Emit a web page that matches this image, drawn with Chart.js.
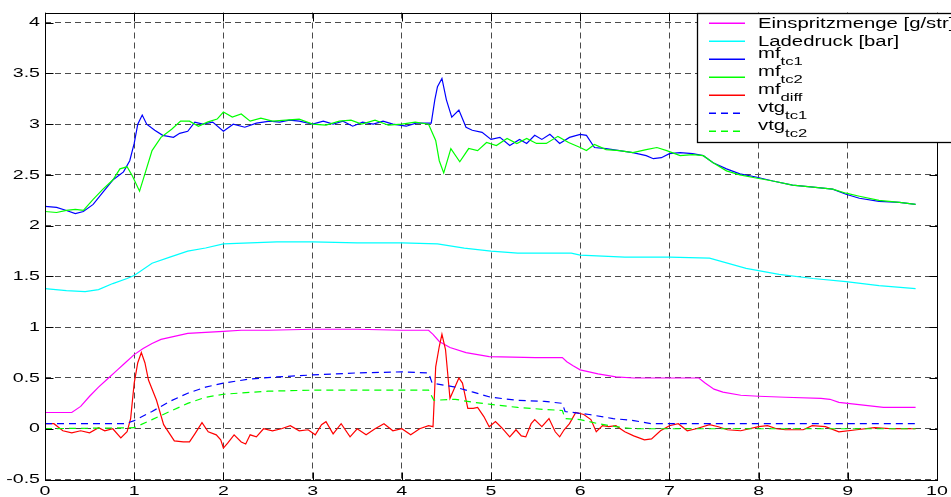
<!DOCTYPE html>
<html>
<head>
<meta charset="utf-8">
<script src="https://cdn.jsdelivr.net/npm/chart.js@4"></script>
<style>
  html, body { margin: 0; padding: 0; background: #fff; overflow: hidden; }
  canvas { display: block; }
</style>
</head>
<body>
<canvas id="c" width="951" height="497"></canvas>
<script>
// Time axis [s] and measured signals

// Einspritzmenge [g/str]
const fuelX = [0,0.3,0.4,0.5,0.6,0.7,0.8,0.9,1.0,1.1,1.2,1.3,1.4,1.6,1.8,2.0,2.2,2.5,3.0,3.5,4.0,4.3,4.35,4.42,4.54,4.72,4.98,5.5,5.8,5.85,5.92,6.0,6.2,6.4,6.6,7.0,7.33,7.4,7.5,7.6,7.8,8.0,8.3,8.7,8.8,8.9,9.0,9.2,9.4,9.76];
const fuelY = [0.16,0.16,0.22,0.32,0.41,0.49,0.57,0.65,0.73,0.79,0.84,0.88,0.9,0.94,0.95,0.96,0.97,0.97,0.98,0.98,0.97,0.97,0.93,0.86,0.8,0.75,0.71,0.7,0.7,0.66,0.62,0.58,0.54,0.51,0.5,0.5,0.5,0.45,0.39,0.36,0.33,0.32,0.31,0.3,0.29,0.26,0.25,0.23,0.21,0.21];

// Ladedruck [bar]
const boostX = [0,0.24,0.45,0.6,0.76,0.92,1.0,1.2,1.4,1.6,1.8,2.0,2.3,2.6,3.0,3.5,4.0,4.4,4.7,5.0,5.3,5.9,6.0,6.5,7.0,7.45,7.86,8.23,8.61,8.98,9.35,9.76];
const boostY = [1.38,1.36,1.35,1.37,1.43,1.48,1.51,1.63,1.69,1.75,1.78,1.82,1.83,1.84,1.84,1.83,1.83,1.82,1.78,1.75,1.73,1.73,1.71,1.69,1.69,1.68,1.58,1.52,1.48,1.45,1.41,1.38];

// mf tc1
const tc1X = [0,0.13,0.24,0.34,0.43,0.54,0.65,0.76,0.88,0.95,1.0,1.04,1.09,1.14,1.23,1.32,1.44,1.51,1.6,1.68,1.77,1.88,2.0,2.11,2.24,2.37,2.52,2.63,2.74,2.85,3.0,3.12,3.23,3.34,3.45,3.56,3.68,3.79,3.9,4.05,4.16,4.33,4.37,4.4,4.45,4.5,4.56,4.64,4.72,4.79,4.9,5.0,5.1,5.21,5.32,5.4,5.49,5.57,5.66,5.77,5.88,6.0,6.07,6.16,6.29,6.44,6.59,6.74,6.82,6.91,7.0,7.12,7.26,7.38,7.49,7.64,7.79,7.97,8.16,8.38,8.61,8.83,8.98,9.13,9.35,9.58,9.76];
const tc1Y = [2.19,2.18,2.15,2.12,2.14,2.21,2.33,2.45,2.53,2.64,2.81,3.0,3.09,3.0,2.94,2.89,2.87,2.91,2.93,3.02,3.0,3.02,2.93,3.0,2.97,3.01,3.03,3.02,3.04,3.03,3.0,3.03,3.0,3.03,2.98,3.02,3.0,3.03,3.0,2.98,3.01,3.01,3.24,3.37,3.45,3.24,3.07,3.14,2.97,2.94,2.92,2.85,2.87,2.79,2.85,2.81,2.89,2.85,2.9,2.81,2.87,2.9,2.89,2.77,2.76,2.74,2.72,2.69,2.66,2.67,2.71,2.72,2.71,2.69,2.62,2.56,2.51,2.48,2.44,2.4,2.38,2.36,2.31,2.27,2.24,2.23,2.21];

// mf tc2
const tc2X = [0,0.13,0.24,0.34,0.43,0.54,0.65,0.76,0.84,0.92,0.98,1.06,1.12,1.2,1.3,1.42,1.52,1.62,1.72,1.82,1.93,2.0,2.1,2.2,2.3,2.42,2.55,2.7,2.85,3.0,3.15,3.3,3.43,3.55,3.7,3.85,4.0,4.15,4.3,4.38,4.42,4.47,4.55,4.65,4.75,4.85,4.95,5.06,5.18,5.29,5.4,5.51,5.62,5.75,5.87,6.0,6.07,6.16,6.29,6.44,6.59,6.74,6.86,6.97,7.12,7.26,7.38,7.49,7.64,7.79,7.97,8.16,8.38,8.61,8.83,8.98,9.13,9.35,9.58,9.76];
const tc2Y = [2.14,2.13,2.15,2.16,2.15,2.26,2.36,2.45,2.56,2.58,2.49,2.34,2.51,2.74,2.87,2.95,3.03,3.03,2.98,3.02,3.05,3.12,3.07,3.1,3.03,3.06,3.03,3.04,3.05,3.0,2.99,3.03,3.04,3.0,3.04,2.99,3.0,3.02,3.0,2.84,2.64,2.52,2.76,2.63,2.76,2.74,2.82,2.79,2.86,2.81,2.86,2.81,2.81,2.88,2.82,2.77,2.74,2.8,2.75,2.74,2.72,2.75,2.77,2.74,2.69,2.7,2.69,2.62,2.54,2.5,2.47,2.44,2.4,2.38,2.36,2.32,2.29,2.25,2.23,2.21];

// mf diff
const diffX = [0,0.1,0.2,0.3,0.4,0.5,0.6,0.67,0.76,0.85,0.92,0.96,1.0,1.04,1.08,1.12,1.16,1.25,1.33,1.45,1.55,1.62,1.68,1.76,1.83,1.92,1.97,2.0,2.05,2.12,2.2,2.25,2.3,2.37,2.45,2.55,2.65,2.75,2.85,2.95,3.03,3.1,3.15,3.23,3.32,3.42,3.5,3.6,3.7,3.8,3.9,4.0,4.1,4.2,4.3,4.35,4.38,4.42,4.45,4.49,4.54,4.58,4.64,4.68,4.74,4.8,4.85,4.92,4.98,5.05,5.12,5.21,5.28,5.34,5.39,5.45,5.49,5.57,5.65,5.72,5.77,5.82,5.88,5.95,6.04,6.12,6.18,6.25,6.32,6.4,6.5,6.6,6.72,6.8,6.9,7.0,7.1,7.2,7.3,7.45,7.55,7.65,7.8,8.0,8.1,8.2,8.3,8.5,8.6,8.75,8.9,9.1,9.3,9.5,9.76];
const diffY = [0.05,0.05,-0.02,-0.04,-0.02,-0.04,0.01,-0.02,0.0,-0.09,-0.03,0.1,0.45,0.65,0.75,0.65,0.48,0.28,0.04,-0.12,-0.13,-0.13,-0.05,0.06,-0.03,-0.06,-0.11,-0.19,-0.14,-0.06,-0.13,-0.15,-0.06,-0.08,0.0,-0.02,0.0,0.03,-0.02,-0.01,-0.06,0.04,0.07,-0.05,0.05,-0.08,0.0,-0.06,0.0,0.05,-0.02,0.0,-0.06,0.0,0.03,0.02,0.61,0.81,0.93,0.78,0.3,0.38,0.5,0.45,0.2,0.2,0.21,0.12,0.02,0.07,0.01,-0.08,-0.01,-0.07,-0.08,0.05,0.09,0.02,0.1,-0.03,-0.08,-0.01,0.05,0.16,0.14,0.09,-0.03,0.03,0.02,0.03,-0.03,-0.07,-0.11,-0.1,-0.02,0.03,0.05,-0.02,0.0,0.04,0.02,-0.01,-0.02,0.02,0.03,0.0,-0.01,-0.01,0.03,0.02,-0.03,-0.01,0.01,0.0,0.0];

// vtg tc1
const vtg1X = [0,0.9,1.0,1.2,1.4,1.6,1.8,2.0,2.3,2.6,3.0,3.5,4.0,4.3,4.34,4.6,4.8,5.0,5.3,5.6,5.8,5.83,6.1,6.37,6.6,6.8,7.5,8.5,9.76];
const vtg1Y = [0.05,0.05,0.08,0.17,0.27,0.35,0.41,0.45,0.49,0.51,0.53,0.55,0.56,0.55,0.45,0.41,0.36,0.31,0.28,0.27,0.25,0.17,0.14,0.1,0.08,0.05,0.05,0.05,0.05];

// vtg tc2
const vtg2X = [0,1.0,1.2,1.4,1.6,1.8,2.0,2.5,3.0,4.0,4.3,4.36,4.6,4.8,5.0,5.3,5.6,5.8,5.83,6.0,6.2,6.4,6.6,9.76];
const vtg2Y = [0,0.01,0.09,0.17,0.25,0.31,0.34,0.37,0.38,0.38,0.38,0.28,0.29,0.26,0.24,0.21,0.19,0.18,0.1,0.09,0.05,0.02,0,0];

// Legend entries: [main text, subscript]
const legendLabels = [
  ['Einspritzmenge [g/str]', ''],
  ['Ladedruck [bar]', ''],
  ['mf', 'tc1'],
  ['mf', 'tc2'],
  ['mf', 'diff'],
  ['vtg', 'tc1'],
  ['vtg', 'tc2']
];

const xMin = 0, xMax = 10, xStep = 1;
const yMin = -0.5, yMax = 4.1, yStep = 0.5;

const pts = (xs, ys) => xs.map((x, i) => ({ x: x, y: ys[i] }));

const lineStyles = [
  { color: 'rgb(255,0,255)', dash: [] },
  { color: 'rgb(0,255,255)', dash: [] },
  { color: 'rgb(0,0,255)',   dash: [] },
  { color: 'rgb(0,255,0)',   dash: [] },
  { color: 'rgb(255,0,0)',   dash: [] },
  { color: 'rgb(0,0,255)',   dash: [7, 5] },
  { color: 'rgb(0,255,0)',   dash: [7, 5] }
];

const seriesData = [
  pts(fuelX, fuelY),
  pts(boostX, boostY),
  pts(tc1X, tc1Y),
  pts(tc2X, tc2Y),
  pts(diffX, diffY),
  pts(vtg1X, vtg1Y),
  pts(vtg2X, vtg2Y)
];

const FONT = '"Liberation Sans", Arial, Helvetica, sans-serif';
const STRETCH = 1.45;

function stretchedText(ctx, txt, x, y, align, size) {
  ctx.save();
  ctx.font = size + 'px ' + FONT;
  const w = ctx.measureText(txt).width * STRETCH;
  let left = x;
  if (align === 'center') left = x - w / 2;
  else if (align === 'right') left = x - w;
  ctx.translate(left, y);
  ctx.scale(STRETCH, 1);
  ctx.textAlign = 'left';
  ctx.fillText(txt, 0, 0);
  ctx.restore();
  return w;
}

const framePlugin = {
  id: 'frame',
  afterDraw(chart) {
    const ctx = chart.ctx;
    const a = chart.chartArea;
    const xs = chart.scales.x, ys = chart.scales.y;
    const tl = 8;

    ctx.save();
    ctx.strokeStyle = '#000';
    ctx.lineWidth = 1;
    ctx.setLineDash([]);
    const L = Math.round(a.left) + 0.5, R = Math.round(a.right) + 0.5;
    const T = Math.round(a.top) + 0.5, B = Math.round(a.bottom) + 0.5;
    ctx.strokeRect(L, T, R - L, B - T);

    // inward tick marks on all four sides
    ctx.beginPath();
    xs.ticks.forEach(t => {
      const p = Math.round(xs.getPixelForValue(t.value)) + 0.5;
      ctx.moveTo(p, B); ctx.lineTo(p, B - tl);
      ctx.moveTo(p, T); ctx.lineTo(p, T + tl);
    });
    ys.ticks.forEach(t => {
      const p = Math.round(ys.getPixelForValue(t.value)) + 0.5;
      ctx.moveTo(L, p); ctx.lineTo(L + tl, p);
      ctx.moveTo(R, p); ctx.lineTo(R - tl, p);
    });
    ctx.stroke();

    // tick labels
    ctx.fillStyle = '#000';
    ctx.textBaseline = 'middle';
    xs.ticks.forEach(t => {
      stretchedText(ctx, String(t.value), xs.getPixelForValue(t.value), a.bottom + 11.5, 'center', 13.5);
    });
    ys.ticks.forEach(t => {
      stretchedText(ctx, String(t.value), a.left - 5, ys.getPixelForValue(t.value), 'right', 13.5);
    });
    ctx.restore();

    // legend box
    ctx.save();
    const bx = 697.5, by = T, bw = 400, bh = 129;
    ctx.fillStyle = '#fff';
    ctx.fillRect(bx, by, bw, bh);
    ctx.lineWidth = 1.3;
    ctx.strokeStyle = '#000';
    ctx.strokeRect(bx, by, bw, bh);
    ctx.restore();

    const rowY0 = 23.3, rowDy = 18;
    legendLabels.forEach((lab, i) => {
      const st = lineStyles[i];
      const cy = rowY0 + i * rowDy;
      ctx.save();
      ctx.beginPath();
      ctx.strokeStyle = st.color;
      ctx.lineWidth = 1.4;
      ctx.setLineDash(st.dash);
      ctx.moveTo(709, cy);
      ctx.lineTo(745, cy);
      ctx.stroke();
      ctx.restore();

      ctx.save();
      ctx.fillStyle = '#000';
      ctx.textBaseline = 'alphabetic';
      if (!lab[1]) {
        stretchedText(ctx, lab[0], 758, cy + 4.8, 'left', 14);
      } else {
        const w = stretchedText(ctx, lab[0], 758, cy - 1.5, 'left', 14);
        stretchedText(ctx, lab[1], 758 + w, cy + 5.5, 'left', 11.5);
      }
      ctx.restore();
    });
  }
};

new Chart(document.getElementById('c'), {
  type: 'line',
  data: {
    datasets: seriesData.map((d, i) => ({
      label: legendLabels[i].join('_'),
      data: d,
      borderColor: lineStyles[i].color,
      backgroundColor: lineStyles[i].color,
      borderWidth: 1.2,
      borderDash: lineStyles[i].dash,
      pointRadius: 0,
      tension: 0,
      fill: false,
      order: seriesData.length - i
    }))
  },
  options: {
    responsive: false,
    devicePixelRatio: 1,
    animation: false,
    events: [],
    layout: { padding: { left: 45, right: 14, top: 12.5, bottom: 17.5 } },
    plugins: { legend: { display: false }, tooltip: { enabled: false } },
    scales: {
      x: {
        type: 'linear',
        min: xMin, max: xMax,
        ticks: { display: false, stepSize: xStep, includeBounds: false },
        grid: { color: '#4a4a4a', lineWidth: 1, drawTicks: false },
        border: { display: false, dash: [6, 4] },
        afterFit: s => { s.height = 0; }
      },
      y: {
        type: 'linear',
        min: yMin, max: yMax,
        ticks: { display: false, stepSize: yStep, includeBounds: false },
        grid: { color: '#4a4a4a', lineWidth: 1, drawTicks: false },
        border: { display: false, dash: [6, 4] },
        afterFit: s => { s.width = 0; }
      }
    }
  },
  plugins: [framePlugin]
});
</script>
</body>
</html>
